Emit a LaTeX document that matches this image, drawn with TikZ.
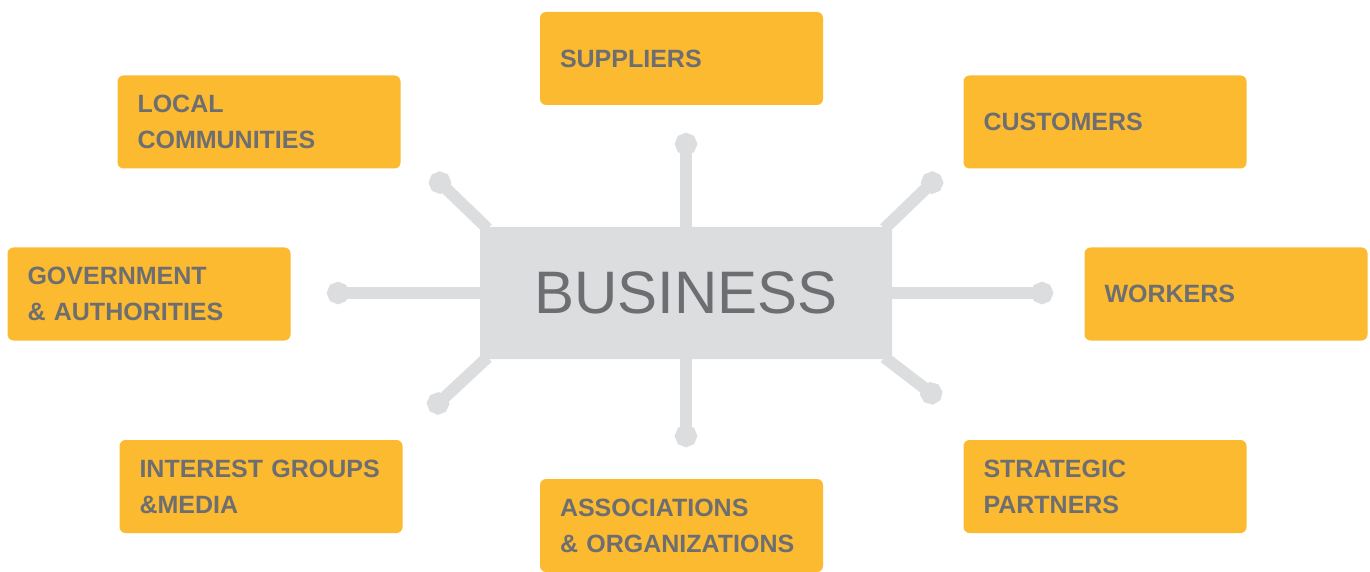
\documentclass[tikz,border=0pt]{standalone}
\usepackage{fontspec}
\setmainfont{Liberation Sans}
\usetikzlibrary{arrows.meta}
\definecolor{orangebox}{HTML}{FBBA30}
\definecolor{greyline}{HTML}{DCDDDE}
\definecolor{textgrey}{HTML}{6D6E71}
\begin{document}
\begin{tikzpicture}[x=0.5pt,y=-0.5pt,
  stake/.style={rectangle, rounded corners=3pt, fill=orangebox, text=textgrey,
    minimum width=141.5pt, minimum height=46.5pt, text width=121.5pt,
    inner xsep=10pt, inner ysep=0pt, align=left,
    font=\bfseries\fontsize{12.5}{18}\selectfont},
  core/.style={rectangle, rounded corners=2pt, fill=greyline, text=textgrey,
    minimum width=206pt, minimum height=66pt, inner sep=0pt,
    font=\fontsize{30}{36}\selectfont},
  link/.style={draw=greyline, line width=6pt, -{Circle[length=11pt,width=11pt]}}]
\useasboundingbox (0,0) rectangle (1370,572);

% stakeholders
\node[stake] (sup) at (681.5,58.5) {SUPPLIERS};
\node[stake] (loc) at (259,122) {LOCAL\\COMMUNITIES};
\node[stake] (cus) at (1105,122) {CUSTOMERS};
\node[stake] (gov) at (149,294) {GOVERNMENT\\\& AUTHORITIES};
\node[stake] (wor) at (1226,294) {WORKERS};
\node[stake] (int) at (261,486.5) {INTEREST GROUPS\\\&MEDIA};
\node[stake] (ass) at (681.5,525.5) {ASSOCIATIONS\\\& ORGANIZATIONS};
\node[stake] (str) at (1105,486.5) {STRATEGIC\\PARTNERS};

% centre
\node[core] (biz) at (686,293) {BUSINESS};

% free ends of the connectors
\coordinate (eN) at (686,133);
\coordinate (eS) at (686,447);
\coordinate (eW) at (327,293);
\coordinate (eE) at (1053,293);
\coordinate (eNW) at (432,175);
\coordinate (eNE) at (940,175);
\coordinate (eSW) at (430,411);
\coordinate (eSE) at (940,400);

\draw[link] (biz.north) -- (eN);
\draw[link] (biz.south) -- (eS);
\draw[link] (biz.west) -- (eW);
\draw[link] (biz.east) -- (eE);
\draw[link] ([shift={(8,2)}]biz.north west) -- (eNW);
\draw[link] ([shift={(-8,2)}]biz.north east) -- (eNE);
\draw[link] ([shift={(8,-2)}]biz.south west) -- (eSW);
\draw[link] ([shift={(-8,-2)}]biz.south east) -- (eSE);
\end{tikzpicture}
\end{document}
